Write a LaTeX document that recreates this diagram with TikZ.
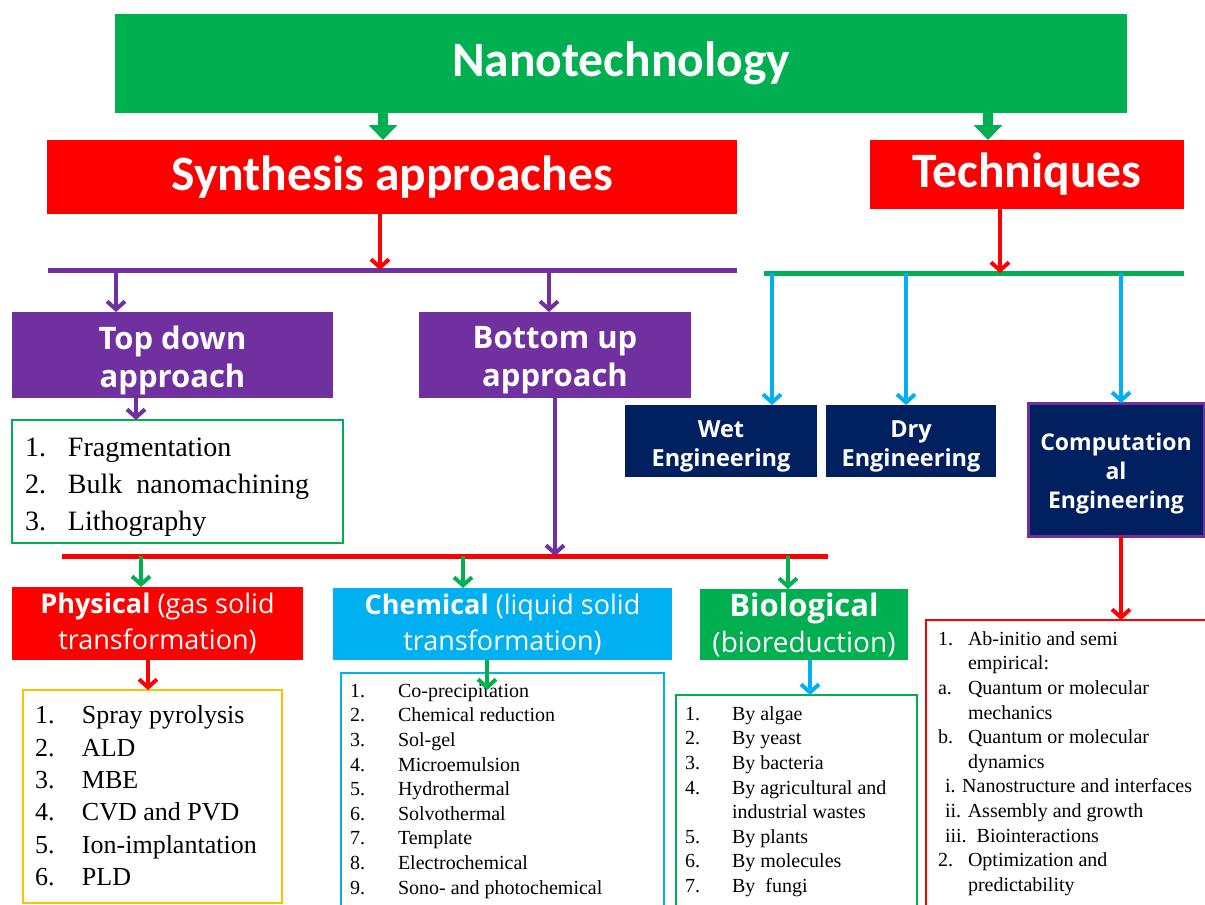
\documentclass[tikz,border=0pt]{standalone}
\usepackage{fontspec}
\setmainfont{Liberation Serif}
\newfontfamily\headfont{Carlito}
\newfontfamily\boxfont{Open Sans}
\usetikzlibrary{arrows.meta}
\definecolor{cgreen}{HTML}{00B050}
\definecolor{cred}{HTML}{FF0000}
\definecolor{cpurple}{HTML}{7030A0}
\definecolor{ccyan}{HTML}{00B0F0}
\definecolor{cnavy}{HTML}{002060}
\definecolor{corange}{HTML}{FFC000}
\begin{document}
\begin{tikzpicture}[x=1pt,y=-1pt,
  box/.style={anchor=north west, inner sep=0pt, outer sep=0pt, text=white, align=center},
  btxt/.style={inner sep=0pt, outer sep=0pt, text=white, align=center},
  frame/.style={anchor=north west, inner sep=0pt, outer sep=0pt, draw, line width=1.2pt, fill=white},
  ltext/.style={anchor=north west, inner sep=0pt, outer sep=0pt, text=black},
  headtxt/.style={font=\headfont\bfseries\fontsize{49.5}{52}\selectfont},
  bigarr/.style={draw=cgreen, line width=10pt, -{Triangle[length=15pt,width=28pt]}},
  barr/.style={line width=4pt, -{Straight Barb[length=8pt,width=18pt]}},
  bar/.style={line width=5pt}
]
\useasboundingbox (0,0) rectangle (1205,905);
\clip (0,0) rectangle (1205,905);

% ---------- top level boxes
\node[box, headtxt, fill=cgreen, minimum width=1012pt, minimum height=99pt] (nano) at (115,14) {Nanotechnology};
\node[box, headtxt, fill=cred, minimum width=690pt, minimum height=74pt] (synth) at (47,140) {Synthesis approaches};
\node[box, headtxt, fill=cred, minimum width=314pt, minimum height=69pt] (tech) at (870,140) {Techniques};

% x positions
\coordinate (xa) at (383,0);
\coordinate (xb) at (988,0);
\coordinate (xc) at (380,0);
\coordinate (xd) at (1000,0);
\coordinate (xtd) at (116,0);
\coordinate (xbu) at (549,0);
\coordinate (xtdl) at (136,0);
\coordinate (xbul) at (555,0);
\coordinate (xph) at (141,0);
\coordinate (xch) at (463,0);
\coordinate (xbi) at (788,0);
\coordinate (xphl) at (148,0);
\coordinate (xchl) at (487,0);
\coordinate (xbil) at (810,0);
\coordinate (xwet) at (772,0);
\coordinate (xdry) at (906,0);
\coordinate (xcomp) at (1121,0);

\draw[bigarr] (nano.south -| xa) -- (synth.north -| xa);
\draw[bigarr] (nano.south -| xb) -- (tech.north -| xb);

% ---------- bars
\coordinate (pbL) at (48,270);
\coordinate (pbR) at (737,270);
\coordinate (gbL) at (764,273);
\coordinate (gbR) at (1184,273);
\coordinate (rbL) at (62,556);
\coordinate (rbR) at (828,556);
\draw[bar, draw=cpurple] (pbL) -- (pbR);
\draw[bar, draw=cgreen] (gbL) -- (gbR);
\draw[bar, draw=cred] (rbL) -- (rbR);

\draw[barr, draw=cred] (synth.south -| xc) -- (pbL -| xc);
\draw[barr, draw=cred] (tech.south -| xd) -- (gbL -| xd);

% ---------- approaches
\node[box, fill=cpurple, minimum width=321pt, minimum height=86pt] (td) at (12,312) {};
\node[btxt, font=\boxfont\bfseries\fontsize{31}{38}\selectfont] (tdt) at ([yshift=-5pt]td.center) {Top down\\approach};
\node[box, fill=cpurple, minimum width=272pt, minimum height=86pt] (bu) at (419,312) {};
\node[btxt, font=\boxfont\bfseries\fontsize{31}{38}\selectfont] (but) at ([yshift=-5pt]bu.center) {Bottom up\\approach};
\draw[barr, draw=cpurple] (pbL -| xtd) -- (td.north -| xtd);
\draw[barr, draw=cpurple] (pbL -| xbu) -- (bu.north -| xbu);

\node[frame, draw=cgreen, minimum width=331pt, minimum height=123pt] (tdl) at (12,420) {};
\node[ltext, font=\fontsize{28}{37}\selectfont] (tdlt) at (25,431) {%
\begin{tabular}{@{}p{43pt}@{}l@{}}
1. & Fragmentation\\
2. & Bulk\ \ nanomachining\\
3. & Lithography
\end{tabular}};
\draw[barr, draw=cpurple] (td.south -| xtdl) -- (tdl.north -| xtdl);
\draw[barr, draw=cpurple] (bu.south -| xbul) -- (rbL -| xbul);

% ---------- techniques
\node[box, fill=cnavy, minimum width=192pt, minimum height=72pt] (wet) at (625,405) {};
\node[btxt, font=\boxfont\bfseries\fontsize{23.5}{29}\selectfont] (wett) at ([yshift=-5pt]wet.center) {Wet\\Engineering};
\node[box, fill=cnavy, minimum width=170pt, minimum height=72pt] (dry) at (826,405) {};
\node[btxt, font=\boxfont\bfseries\fontsize{23.5}{29}\selectfont] (dryt) at ([yshift=-5pt]dry.center) {Dry\\Engineering};
\node[box, fill=cnavy, draw=cpurple, line width=3pt, minimum width=176pt, minimum height=133pt] (comp) at (1028,403) {};
\node[btxt, font=\boxfont\bfseries\fontsize{23}{29}\selectfont] (compt) at ([yshift=-4pt]comp.center) {Computation\\al\\Engineering};
\draw[barr, draw=ccyan] (gbL -| xwet) -- (wet.north -| xwet);
\draw[barr, draw=ccyan] (gbL -| xdry) -- (dry.north -| xdry);
\draw[barr, draw=ccyan] (gbL -| xcomp) -- (comp.north -| xcomp);

% ---------- methods
\node[box, fill=cred, minimum width=291pt, minimum height=73pt,
  font=\boxfont\fontsize{27}{36}\selectfont] (phys) at (12,587) {{\bfseries Physical} (gas solid\\transformation)};
\node[box, fill=ccyan, minimum width=339pt, minimum height=72pt,
  font=\boxfont\fontsize{27}{36}\selectfont] (chem) at (333,588) {{\bfseries Chemical} (liquid solid\\transformation)};
\node[box, fill=cgreen, minimum width=208pt, minimum height=71pt,
  font=\boxfont\fontsize{28}{36}\selectfont] (bio) at (700,589) {{\bfseries\fontsize{31}{36}\selectfont Biological}\\(bioreduction)};
\draw[barr, draw=cgreen] (rbL -| xph) -- (phys.north -| xph);
\draw[barr, draw=cgreen] (rbL -| xch) -- (chem.north -| xch);
\draw[barr, draw=cgreen] (rbL -| xbi) -- (bio.north -| xbi);

% physical list
\node[frame, draw=corange, minimum width=259pt, minimum height=213pt] (physl) at (23,690) {};
\node[ltext, font=\fontsize{26}{32.4}\selectfont] (physlt) at (35,701) {%
\begin{tabular}{@{}p{47pt}@{}l@{}}
1. & Spray pyrolysis\\
2. & ALD\\
3. & MBE\\
4. & CVD and PVD\\
5. & Ion-implantation\\
6. & PLD
\end{tabular}};
\draw[barr, draw=cred] (phys.south -| xphl) -- (physl.north -| xphl);

% chemical list
\node[frame, draw=ccyan, minimum width=323pt, minimum height=240pt] (cheml) at (341,673) {};
\node[ltext, font=\fontsize{20}{24.6}\selectfont] (chemlt) at (350,680) {%
\begin{tabular}{@{}p{48pt}@{}l@{}}
1. & Co-precipitation\\
2. & Chemical reduction\\
3. & Sol-gel\\
4. & Microemulsion\\
5. & Hydrothermal\\
6. & Solvothermal\\
7. & Template\\
8. & Electrochemical\\
9. & Sono- and photochemical
\end{tabular}};
\coordinate (chemtip) at (487,690);
\draw[barr, draw=cgreen] (chem.south -| xchl) -- (chemtip);

% biological list
\node[frame, draw=cgreen, minimum width=241pt, minimum height=220pt] (biol) at (676,695) {};
\node[ltext, font=\fontsize{20}{24.6}\selectfont] (biolt) at (685,703) {%
\begin{tabular}{@{}p{47pt}@{}l@{}}
1. & By algae\\
2. & By yeast\\
3. & By bacteria\\
4. & By agricultural and\\
   & industrial wastes\\
5. & By plants\\
6. & By molecules\\
7. & By\ \ fungi
\end{tabular}};
\draw[barr, draw=ccyan] (bio.south -| xbil) -- (biol.north -| xbil);

% computational list
\node[frame, draw=cred, minimum width=290pt, minimum height=300pt] (compl) at (926,620) {};
\node[ltext, font=\fontsize{20}{24.6}\selectfont] (complt) at (938,628) {%
\begin{tabular}{@{}p{30pt}@{}l@{}}
1. & Ab-initio and semi\\
   & empirical:\\
a. & Quantum or molecular\\
   & mechanics\\
b. & Quantum or molecular\\
   & dynamics\\
\multicolumn{2}{@{}l@{}}{\hspace{7pt}i. Nanostructure and interfaces}\\
\multicolumn{2}{@{}l@{}}{\hspace{7pt}ii. Assembly and growth}\\
\multicolumn{2}{@{}l@{}}{\hspace{7pt}iii.\ \ Biointeractions}\\
2. & Optimization and\\
   & predictability
\end{tabular}};
\draw[barr, draw=cred] (comp.south -| xcomp) -- (compl.north -| xcomp);
\end{tikzpicture}
\end{document}
